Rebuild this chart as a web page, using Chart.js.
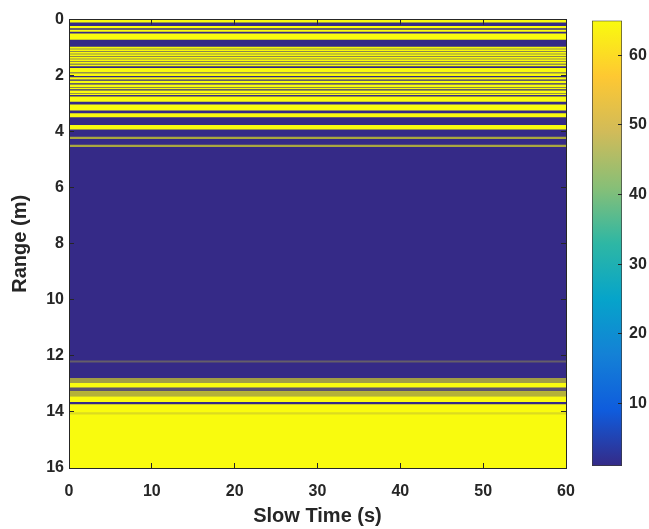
<!DOCTYPE html>
<html>
<head>
<meta charset="utf-8">
<script src="https://cdn.jsdelivr.net/npm/chart.js@4.4.1/dist/chart.umd.min.js"></script>
<style>
  html, body { margin: 0; padding: 0; background: #ffffff; }
  #wrap { position: relative; width: 649px; height: 529px; overflow: hidden; }
  #main { position: absolute; left: 0; top: 0; }
  #cbar { position: absolute; left: 570px; top: 0; }
</style>
</head>
<body>
<div id="wrap">
  <canvas id="main" width="649" height="529"></canvas>
  <canvas id="cbar" width="79" height="529"></canvas>
</div>
<script>
// Axis spans and tick labels
const slowTimeLimits = [0, 60];            // s
const rangeLimits = [0, 16];               // m
const timeTicks = [0, 10, 20, 30, 40, 50, 60];
const rangeTicks = [0, 2, 4, 6, 8, 10, 12, 14, 16];
const colorLimits = [1, 65];
const colorTicks = [10, 20, 30, 40, 50, 60];

// Range bands of the range/slow-time map: start and end (m),
// colour index, and the share of slow-time samples holding that index
const bandStart = [0.00, 0.00, 0.24, 0.37, 0.51, 0.98, 1.07, 1.16, 1.25, 1.34, 1.43, 1.52, 1.61,
                   1.74, 1.93, 2.07, 2.19, 2.33, 2.44, 2.54, 2.65, 2.76, 3.04, 3.35, 3.77, 4.19, 4.48,
                   12.18, 12.80, 12.98, 13.13, 13.26, 13.45, 13.74, 14.02];
const bandEnd   = [16.00, 0.09, 0.30, 0.42, 0.71, 1.025, 1.115, 1.205, 1.295, 1.385, 1.475, 1.565, 1.655,
                   1.88, 2.00, 2.13, 2.26, 2.40, 2.47, 2.61, 2.68, 2.92, 3.23, 3.47, 3.91, 4.25, 4.53,
                   12.22, 12.96, 13.12, 13.25, 13.43, 13.63, 16.00, 14.08];
const bandLevel = [1, 64, 64, 64, 64, 64, 64, 64, 64, 64, 64, 64, 64,
                   64, 64, 64, 64, 64, 64, 64, 64, 64, 64, 64, 64, 64, 64,
                   64, 64, 64, 64, 64, 64, 64, 1];
const bandShare = [1, 1, 1, 1, 1, 1, 1, 1, 1, 1, 1, 1, 1,
                   1, 1, 1, 1, 1, 1, 1, 1, 1, 1, 1, 1, 0.6, 0.6,
                   0.25, 0.55, 1, 0.2, 0.65, 1, 1, 0.15];

// Parula colour map
const parulaStops = ['#352a87', '#0f5cdd', '#1481d6', '#06a4ca', '#2eb7a4',
                     '#87bf77', '#d1bb59', '#fec832', '#f9fb0e'];
const hexRgb = h => [1, 3, 5].map(i => parseInt(h.slice(i, i + 2), 16));
function parula(t) {
  t = Math.max(0, Math.min(1, t));
  const p = t * (parulaStops.length - 1);
  const i = Math.min(Math.floor(p), parulaStops.length - 2);
  const f = p - i;
  const a = hexRgb(parulaStops[i]), b = hexRgb(parulaStops[i + 1]);
  return a.map((v, k) => Math.round(v + (b[k] - v) * f));
}
function levelColor(level, share) {
  const t = (level - colorLimits[0]) / (colorLimits[1] - colorLimits[0] - 1);
  const [r, g, b] = parula(t);
  return `rgba(${r},${g},${b},${share})`;
}

const ink = '#262626';
Chart.defaults.font.family = '"Liberation Sans", Arial, Helvetica, sans-serif';
Chart.defaults.font.weight = 'bold';
Chart.defaults.color = ink;

const setTicks = list => scale => { scale.ticks = list.map(v => ({ value: v })); };
const boxGrid = { drawOnChartArea: false, tickLength: -5, color: ink, lineWidth: 1, z: 1, offset: false };
const boxBorder = { color: ink, width: 1, z: 1 };

// One full-width floating bar per range band, all sharing one slot;
// later bands are painted over earlier ones
const midTime = (slowTimeLimits[0] + slowTimeLimits[1]) / 2;
const datasets = bandStart.map((s, i) => ({
  data: [{ x: midTime, y: [s, bandEnd[i]] }],
  backgroundColor: levelColor(bandLevel[i], bandShare[i]),
  borderWidth: 0,
  barThickness: 'flex',
  barPercentage: 1,
  categoryPercentage: 1,
  stack: 'map',
  order: bandStart.length - i
}));

new Chart(document.getElementById('main'), {
  type: 'bar',
  data: { datasets },
  options: {
    responsive: false,
    animation: false,
    devicePixelRatio: 1,
    layout: { padding: 0 },
    plugins: { legend: { display: false }, tooltip: { enabled: false } },
    scales: {
      x: {
        type: 'linear', position: 'bottom', offset: false,
        min: slowTimeLimits[0], max: slowTimeLimits[1],
        afterBuildTicks: setTicks(timeTicks),
        ticks: { font: { size: 16, weight: 'bold' }, padding: 19, maxRotation: 0, autoSkip: false, color: ink },
        grid: boxGrid, border: boxBorder,
        title: { display: true, text: 'Slow Time (s)', font: { size: 20, weight: 'bold' }, padding: { top: 0, bottom: 1 }, color: ink },
        afterFit: s => { s.height = 61; }
      },
      xTop: {
        axis: 'x', type: 'linear', position: 'top', offset: false,
        min: slowTimeLimits[0], max: slowTimeLimits[1],
        afterBuildTicks: setTicks(timeTicks),
        ticks: { display: false },
        grid: boxGrid, border: boxBorder,
        afterFit: s => { s.height = 17; }
      },
      y: {
        type: 'linear', position: 'left', reverse: true, stacked: false,
        min: rangeLimits[0], max: rangeLimits[1],
        afterBuildTicks: setTicks(rangeTicks),
        ticks: { font: { size: 16, weight: 'bold' }, padding: 10, color: ink },
        grid: boxGrid, border: boxBorder,
        title: { display: true, text: 'Range (m)', font: { size: 20, weight: 'bold' }, padding: { top: 8, bottom: 0 }, color: ink },
        afterFit: s => { s.width = 69; }
      },
      yRight: {
        axis: 'y', type: 'linear', position: 'right', reverse: true,
        min: rangeLimits[0], max: rangeLimits[1],
        afterBuildTicks: setTicks(rangeTicks),
        ticks: { display: false },
        grid: boxGrid, border: boxBorder,
        afterFit: s => { s.width = 83; }
      }
    }
  }
});

// Colour bar
new Chart(document.getElementById('cbar'), {
  type: 'bar',
  data: {
    labels: [''],
    datasets: [{
      data: [[colorLimits[0], colorLimits[1]]],
      backgroundColor: c => {
        const ch = c.chart, ys = ch.scales.y;
        if (!ch.chartArea || !ys) return levelColor(32, 1);
        const g = ch.ctx.createLinearGradient(0, ys.getPixelForValue(colorLimits[0]), 0, ys.getPixelForValue(colorLimits[1]));
        parulaStops.forEach((col, i) => g.addColorStop(i / (parulaStops.length - 1), col));
        return g;
      },
      borderColor: '#3a3a3a',
      borderWidth: 1,
      borderSkipped: false,
      barPercentage: 1,
      categoryPercentage: 1
    }]
  },
  options: {
    responsive: false,
    animation: false,
    devicePixelRatio: 1,
    layout: { padding: { left: 22, top: 17, bottom: 63, right: 0 } },
    plugins: { legend: { display: false }, tooltip: { enabled: false } },
    scales: {
      x: { display: false },
      y: {
        position: 'right',
        min: colorLimits[0], max: colorLimits[1],
        afterBuildTicks: setTicks(colorTicks),
        ticks: { font: { size: 16, weight: 'bold' }, padding: 11, color: ink },
        grid: { drawOnChartArea: false, tickLength: -4, color: ink, z: 1 },
        border: { display: false },
        afterFit: s => { s.width = 27; }
      }
    }
  }
});
</script>
</body>
</html>
